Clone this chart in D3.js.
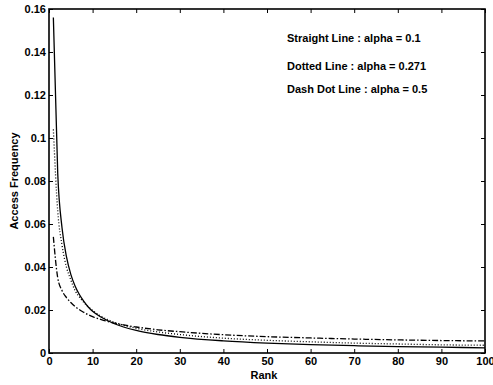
<!DOCTYPE html>
<html>
<head>
<meta charset="utf-8">
<script src="https://cdn.jsdelivr.net/npm/d3@7"></script>
<style>
  body { margin: 0; background: #fff; }
  text { font-family: "Liberation Sans", Arial, sans-serif; font-weight: bold; fill: #000; }
</style>
</head>
<body>
<div id="chart-area"></div>
<script>
// values
var ranks     = [1, 2, 3, 4, 5, 6, 7, 8, 9, 10, 12, 15, 20, 25, 30, 40, 50, 60, 70, 80, 90, 100];
var straight  = [0.156, 0.0836, 0.058, 0.0448, 0.0366, 0.0311, 0.0271, 0.0240, 0.0214, 0.0194, 0.0166, 0.0136, 0.0105, 0.0086, 0.0073, 0.00565, 0.0046, 0.0039, 0.0034, 0.0030, 0.0027, 0.0024];
var dotted    = [0.104, 0.066, 0.050, 0.040, 0.034, 0.029, 0.026, 0.0235, 0.0215, 0.0198, 0.0170, 0.0143, 0.0115, 0.0098, 0.0086, 0.0069, 0.0059, 0.0052, 0.0046, 0.0042, 0.0038, 0.0036];
var dashDot   = [0.054, 0.035, 0.029, 0.0258, 0.0235, 0.0216, 0.0201, 0.0189, 0.0178, 0.0169, 0.0155, 0.0139, 0.0121, 0.0108, 0.0099, 0.0085, 0.0076, 0.0070, 0.0065, 0.0061, 0.0058, 0.0056];
var xTicks = [0, 10, 20, 30, 40, 50, 60, 70, 80, 90, 100];
var yTicks = [0, 0.02, 0.04, 0.06, 0.08, 0.1, 0.12, 0.14, 0.16];
var legendLabels = ["Straight Line : alpha = 0.1", "Dotted Line : alpha = 0.271", "Dash Dot Line : alpha = 0.5"];

var margin = { left: 49, right: 8, top: 9, bottom: 32 };
var width = 493 - margin.left - margin.right;
var height = 385 - margin.top - margin.bottom;

var svg = d3.select("#chart-area").append("svg")
    .attr("width", 493)
    .attr("height", 385);
var g = svg.append("g")
    .attr("transform", "translate(" + margin.left + "," + margin.top + ")");

var x = d3.scaleLinear().domain([0, 100]).range([0, width]);
var y = d3.scaleLinear().domain([0, 0.16]).range([height, 0]);

// axes with inward ticks
var xAxisCall = d3.axisBottom(x).tickValues(xTicks).tickSizeInner(-4).tickSizeOuter(0).tickPadding(4)
    .tickFormat(d3.format("d"));
var yAxisCall = d3.axisLeft(y).tickValues(yTicks).tickSizeInner(-4).tickSizeOuter(0).tickPadding(3)
    .tickFormat(function(d) { return d === 0 ? "0" : d3.format("")(+d.toFixed(2)); });

g.append("g").attr("transform", "translate(0," + height + ")").call(xAxisCall);
g.append("g").call(yAxisCall);
g.append("g").call(d3.axisTop(x).tickValues(xTicks).tickSizeInner(-4).tickSizeOuter(0).tickFormat(""));
g.append("g").attr("transform", "translate(" + width + ",0)")
    .call(d3.axisRight(y).tickValues(yTicks).tickSizeInner(-4).tickSizeOuter(0).tickFormat(""));

g.selectAll(".domain").remove();
g.selectAll(".tick line").attr("stroke", "#000").attr("stroke-width", 1);
g.selectAll(".tick text").attr("font-size", "11px").attr("font-weight", "bold")
    .attr("font-family", "Liberation Sans, Arial, sans-serif");

g.append("rect")
    .attr("width", width).attr("height", height)
    .attr("fill", "none").attr("stroke", "#000").attr("stroke-width", 1.6);

// curves
var series = [
    { values: straight, dash: null },
    { values: dotted, dash: "1,2" },
    { values: dashDot, dash: "6,2,1.5,2" }
];
var line = d3.line()
    .x(function(d) { return x(d[0]); })
    .y(function(d) { return y(d[1]); })
    .curve(d3.curveMonotoneX);

series.forEach(function(s) {
    g.append("path")
        .attr("d", line(ranks.map(function(r, i) { return [r, s.values[i]]; })))
        .attr("fill", "none")
        .attr("stroke", "#000")
        .attr("stroke-width", 1.3)
        .attr("stroke-dasharray", s.dash);
});

// legend text
var legendY = [42, 70, 93];
legendLabels.forEach(function(t, i) {
    svg.append("text")
        .attr("x", 287)
        .attr("y", legendY[i])
        .attr("font-size", "11px")
        .text(t);
});

// axis labels
svg.append("text")
    .attr("x", 264)
    .attr("y", 379)
    .attr("text-anchor", "middle")
    .attr("font-size", "11px")
    .text("Rank");
svg.append("text")
    .attr("transform", "translate(18," + (margin.top + height / 2) + ") rotate(-90)")
    .attr("text-anchor", "middle")
    .attr("font-size", "11px")
    .text("Access Frequency");
</script>
</body>
</html>
